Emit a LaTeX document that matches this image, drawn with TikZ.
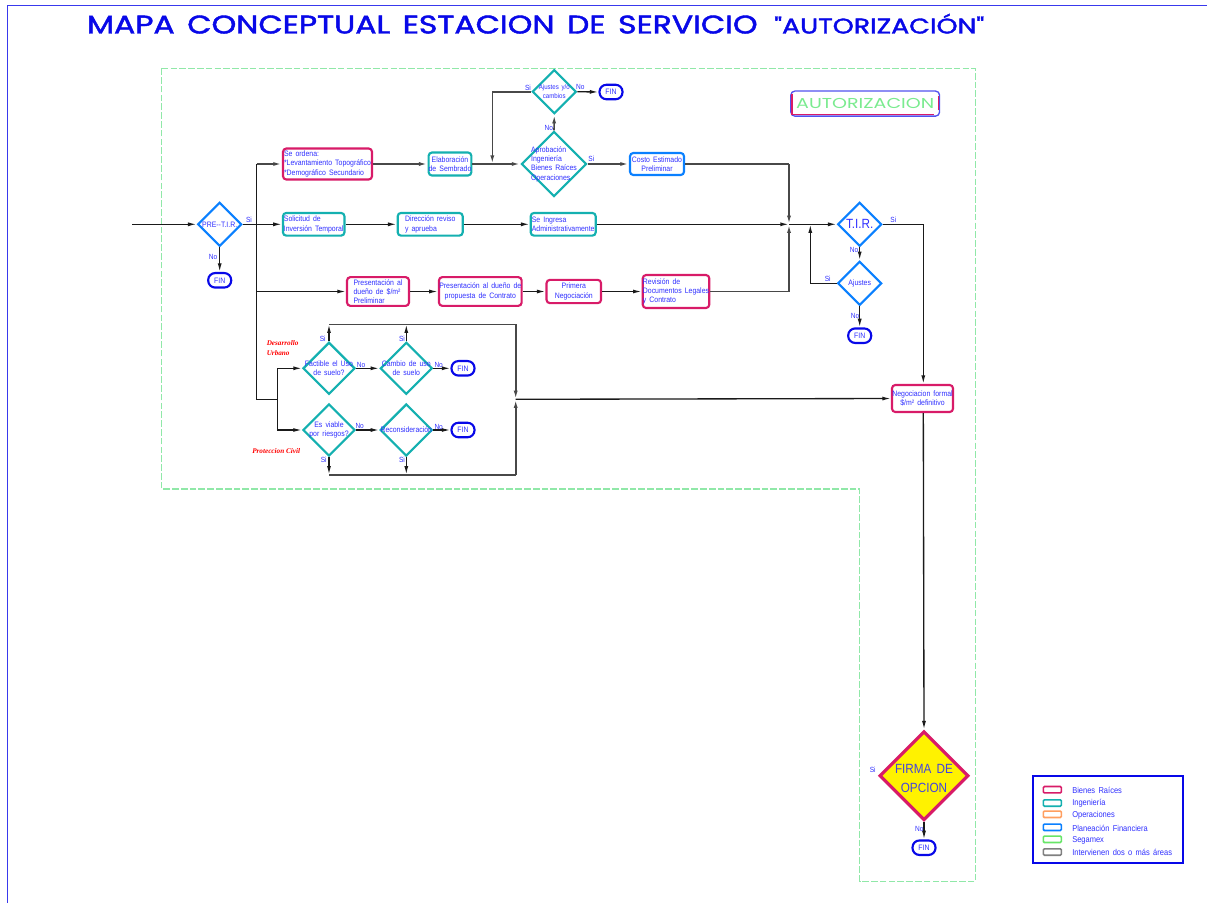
\documentclass[tikz,border=0pt]{standalone}
\usepackage{fontspec}
\setmainfont{Liberation Sans}
\newfontfamily\tf[FakeStretch=0.88,WordSpace=1.6]{Liberation Sans}
\newfontfamily\rf{Liberation Serif}
\newfontfamily\ttl[FakeBold=1.6,WordSpace=1.5]{Poppins}
\newfontfamily\aut{Poppins}
\usetikzlibrary{shapes.geometric,arrows.meta}
\definecolor{crim}{HTML}{D81B68}
\definecolor{teal2}{HTML}{14B0B0}
\definecolor{blu}{HTML}{0A80FF}
\definecolor{txb}{HTML}{3030FF}
\definecolor{dgreen}{HTML}{90E8A8}
\definecolor{fin}{HTML}{0808E8}
\definecolor{lnk}{HTML}{1A1A1A}
\definecolor{lnkg}{HTML}{484848}
\tikzset{
 txt/.style={text=txb,font=\tf\fontsize{5.9}{7}\selectfont,align=center,inner sep=0pt},
 lab/.style={text=txb,font=\tf\fontsize{5.6}{6}\selectfont,inner sep=0pt},
 boxc/.style={txt,draw=crim,line width=1.6pt,rounded corners=2.5pt},
 boxt/.style={txt,draw=teal2,line width=1.6pt,rounded corners=2.5pt},
 boxb/.style={txt,draw=blu,line width=1.6pt,rounded corners=2.5pt},
 finb/.style={txt,draw=fin,line width=1.6pt,rounded corners=5.2pt,minimum width=17.5pt,minimum height=10.5pt},
 dia/.style={diamond,aspect=1,inner sep=0pt,line width=1.6pt},
 arr/.style={draw=lnk,line width=1pt,-{Latex[length=6.5pt,width=3pt]}},
 plainl/.style={draw=lnk,line width=1pt},
 arrg/.style={draw=lnkg,line width=1.2pt,-{Latex[length=6.5pt,width=3pt]}},
 plaing/.style={draw=lnkg,line width=1.2pt},
 redl/.style={text=red,font=\rf\bfseries\itshape\fontsize{5.4}{7.2}\selectfont,align=left,inner sep=0pt,anchor=west},
 legt/.style={text=txb,font=\tf\fontsize{6.4}{7}\selectfont,inner sep=0pt,anchor=west},
 sw/.style={draw=#1,line width=1.2pt,rounded corners=.8pt,minimum width=13.5pt,minimum height=4.8pt,inner sep=0pt}
}
\newcommand\bx[6]{\node[#1,minimum width=#4*0.75pt,minimum height=#5*0.75pt] (#2) at (#3) {#6};}
\newcommand\dm[6]{\node[dia,#1,minimum width=#4*1.5pt,minimum height=#4*1.5pt] (#2) at (#3) {};\node[txt,#5] (#2t) at (#2) {#6};}
\newcommand\lb[3]{\node[lab] (#1) at (#2) {#3};}
\begin{document}
\begin{tikzpicture}[x=0.75pt,y=-0.75pt]
\useasboundingbox (0,0) rectangle (1207,903);
\fill[white] (0,0) rectangle (1207,903);
% frame
\draw[fin!80!white,line width=.7pt] (7.5,903) -- (7.5,5.5) -- (1207,5.5);
% title
\node[text=fin,inner sep=0pt,anchor=south west] (title1) at (86.7,33.9) {\resizebox{503pt}{13.5pt}{\ttl MAPA CONCEPTUAL ESTACION DE SERVICIO}};
\node[text=fin,inner sep=0pt,anchor=south west] (title2) at (774,33.9) {\resizebox{157.5pt}{14.8pt}{\ttl "AUTORIZACIÓN"}};
% dashed region
\draw[dgreen,line width=.8pt,dash pattern=on 5pt off 1.6pt] (161.7,68.4) -- (975.6,68.4) -- (975.6,881.3) -- (859.8,881.3) -- (859.8,489) -- (161.7,489) -- cycle;
% autorizacion box
\node[draw=fin!70!white,line width=1pt,rounded corners=3pt,minimum width=111.5pt,minimum height=18.8pt,inner sep=0pt] (autb) at (865.2,103.6) {\resizebox{103.5pt}{7.6pt}{\textcolor{dgreen!85!green}{\aut AUTORIZACION}}};
\draw[crim,line width=.8pt] (792,94) -- (792,114.6) -- (934,114.6) (938.6,110) -- (938.6,96);
% row 1
\coordinate (start) at (132,224.3);
\dm{draw=blu}{pre}{219.7,224.3}{22}{}{PRE--T.I.R.}
\bx{finb}{fin1}{219.7,280.3}{23}{14.5}{FIN}
\bx{boxc,align=left}{orden}{327.5,164}{89}{31}{Se ordena:\\*Levantamiento Topográfico\\[.6pt]*Demográfico Secundario}
\bx{boxt}{elab}{450,164}{42}{23}{Elaboración\\de Sembrado}
\dm{draw=teal2}{aprob}{554,164}{32.5}{align=left}{Aprobación\\Ingeniería\\Bienes Raíces\\Operaciones}
\dm{draw=teal2}{ajc}{554.3,91.7}{22}{font=\tf\fontsize{5.2}{7}\selectfont}{Ajustes y/o\\cambios}
\bx{finb}{fin2}{611,92}{23}{14.5}{FIN}
\bx{boxb}{costo}{657,164}{54}{22}{Costo Estimado\\Preliminar}
% row 2
\bx{boxt,align=left}{soli}{313.7,224.3}{61.5}{22.7}{Solicitud de\\Inversión Temporal}
\bx{boxt,align=left}{dir}{430.2,224.3}{65}{22.7}{Dirección reviso\\y aprueba}
\bx{boxt,align=left}{ing}{563.2,224.3}{65}{22.7}{Se Ingresa\\Administrativamente}
% row 3
\bx{boxc,align=left}{pres1}{378,291.5}{62}{28.7}{Presentación al\\dueño de \$/m² \\Preliminar}
\bx{boxc}{pres2}{480.3,291.5}{82.7}{28.7}{Presentación al dueño de\\propuesta de Contrato}
\bx{boxc}{prim}{573.8,291.5}{54.5}{23.3}{Primera\\Negociación}
\bx{boxc,align=left}{rev}{676,291.5}{66.5}{33}{Revisión de\\Documentos Legales\\y Contrato}
% T.I.R.
\dm{draw=blu}{tir}{859.7,224.3}{22}{font=\tf\fontsize{10}{12}\selectfont}{T.I.R.}
\dm{draw=blu}{aju}{859.7,283.3}{22}{}{Ajustes}
\bx{finb}{fin3}{859.7,335.7}{23}{14.5}{FIN}
\bx{boxc}{nego}{922.5,398.5}{61}{27}{Negociacion formal\\\$/m² definitivo}
% factibility
\dm{draw=teal2}{fact}{329,368.3}{26}{}{Factible el Uso\\de suelo?}
\dm{draw=teal2}{camb}{406.3,368.3}{26}{}{Cambio de uso\\de suelo}
\bx{finb}{fin4}{463,368.3}{23}{14.5}{FIN}
\dm{draw=teal2}{viab}{329,430}{26}{}{Es viable\\por riesgos?}
\dm{draw=teal2}{reco}{406.3,430}{26}{}{Reconsideración}
\bx{finb}{fin5}{463,430}{23}{14.5}{FIN}
% firma
\node[dia,draw=crim,fill=yellow,line width=2.4pt,minimum width=66.8pt,minimum height=66.8pt] (firma) at (924,775.7) {};
\node[txt,text=txb!75!gray,font=\tf\fontsize{10}{14.5}\selectfont,yshift=-2pt] (firmat) at (firma) {FIRMA DE\\OPCION};
\bx{finb}{fin6}{924,847.7}{23}{14.5}{FIN}
% junctions
\coordinate (t1) at (256.7,164);
\coordinate (t2) at (256.7,224.3);
\coordinate (t3) at (256.7,291.5);
\coordinate (t4) at (256.7,399.3);
\coordinate (s1) at (277.3,399.3);
\coordinate (s2) at (277.3,368.3);
\coordinate (s3) at (277.3,430);
\coordinate (j1) at (789,224.3);
\coordinate (j1a) at (789,164);
\coordinate (j1b) at (789,291.5);
\coordinate (j2) at (810.3,224.3);
\coordinate (j2a) at (810.3,283.3);
\coordinate (k1) at (492.3,164);
\coordinate (k2) at (492.3,91.7);
\coordinate (n1) at (923.3,224.3);
\coordinate (r0) at (515.7,399.3);
\coordinate (rt) at (515.7,324.3);
\coordinate (rb) at (515.7,474.7);
\coordinate (u1) at (329,324.3);
\coordinate (u2) at (406.3,324.3);
\coordinate (d1) at (329,474.7);
\coordinate (d2) at (406.3,474.7);
% connectors
\draw[arr] (start) -- (pre.west);
\draw[arr] (pre.south) -- (fin1.north);
\draw[arr] (pre.east) -- (soli.west);
\draw[plainl] (t2) -- (t1);
\draw[arrg] (t1) -- (orden.west);
\draw[plainl] (t2) -- (t4) -- (s1);
\draw[arr] (t3) -- (pres1.west);
\draw[plainl] (s3) -- (s2);
\draw[arr] (s2) -- (fact.west);
\draw[arr] (s3) -- (viab.west);
\draw[arrg] (orden.east) -- (elab.west);
\draw[arrg] (elab.east) -- (aprob.west);
\draw[arrg] (aprob.east) -- (costo.west);
\draw[arrg] (aprob.north) -- (ajc.south);
\draw[arr] (ajc.east) -- (fin2.west);
\draw[plaing] (ajc.west) -- (k2);
\draw[arrg] (k2) -- (k1);
\draw[plaing] (costo.east) -- (j1a);
\draw[arrg] (j1a) -- (j1);
\draw[plaing] (rev.east) -- (j1b);
\draw[arrg] (j1b) -- (j1);
\draw[arr] (soli.east) -- (dir.west);
\draw[arr] (dir.east) -- (ing.west);
\draw[arr] (ing.east) -- (j1);
\draw[arr] (j1) -- (tir.west);
\draw[arr] (pres1.east) -- (pres2.west);
\draw[arr] (pres2.east) -- (prim.west);
\draw[arr] (prim.east) -- (rev.west);
\draw[arr] (tir.south) -- (aju.north);
\draw[arr] (aju.south) -- (fin3.north);
\draw[plainl] (aju.west) -- (j2a);
\draw[arr] (j2a) -- (j2);
\draw[plainl] (tir.east) -- (n1);
\draw[arr] (n1) -- (nego.north -| n1);
\draw[arr] (nego.south -| n1) -- (firma.north);
\draw[arr] (firma.south) -- (fin6.north);
\draw[arr] (fact.east) -- (camb.west);
\draw[arr] (camb.east) -- (fin4.west);
\draw[arr] (viab.east) -- (reco.west);
\draw[arr] (reco.east) -- (fin5.west);
\draw[arr] (fact.north) -- (u1);
\draw[arr] (camb.north) -- (u2);
\draw[arr] (viab.south) -- (d1);
\draw[arr] (reco.south) -- (d2);
\draw[plaing] (u1) -- (rt);
\draw[arrg] (rt) -- (r0);
\draw[plaing] (d1) -- (rb);
\draw[arrg] (rb) -- (r0);
\draw[arr] (r0) -- (nego.west);
% labels
\lb{l1}{249,220.3}{Si}
\lb{l2}{213,256.7}{No}
\lb{l3}{528,88}{Si}
\lb{l4}{580.3,87.3}{No}
\lb{l5}{548.7,127.7}{No}
\lb{l6}{591.3,159.3}{Si}
\lb{l7}{322.7,338.7}{Si}
\lb{l8}{361,365}{No}
\lb{l9}{402,338.7}{Si}
\lb{l10}{438.7,364.7}{No}
\lb{l11}{359.7,426.3}{No}
\lb{l12}{323.7,460.3}{Si}
\lb{l13}{438.7,427}{No}
\lb{l14}{402,460.3}{Si}
\lb{l15}{893.3,220.3}{Si}
\lb{l16}{854,250.3}{No}
\lb{l17}{827.7,279.3}{Si}
\lb{l18}{855,316.3}{No}
\lb{l19}{872.7,769.7}{Si}
\lb{l20}{919.3,828.7}{No}
% red labels
\node[redl] (du) at (266.5,348) {Desarrollo\\Urbano};
\node[redl] (pc) at (252,451) {Proteccion  Civil};
% legend
\node[draw=fin,line width=1.6pt,minimum width=112.3pt,minimum height=65.5pt,inner sep=0pt] (leg) at (1107.8,819.3) {};
\node[sw=crim] (s-a) at (1052.3,789.7) {};
\node[sw=teal2] (s-b) at (1052.3,803) {};
\node[sw={orange!50!pink}] (s-c) at (1052.3,814.3) {};
\node[sw=blu] (s-d) at (1052.3,827.3) {};
\node[sw={green!55!white!90!black}] (s-e) at (1052.3,839.3) {};
\node[sw=gray] (s-f) at (1052.3,852) {};
\node[legt] (t-a) at (1072,790.3) {Bienes Raíces};
\node[legt] (t-b) at (1072,803.7) {Ingeniería};
\node[legt] (t-c) at (1072,815) {Operaciones};
\node[legt] (t-d) at (1072,828.3) {Planeación Financiera};
\node[legt] (t-e) at (1072,840.3) {Segamex};
\node[legt] (t-f) at (1072,852.7) {Intervienen dos o más áreas};
\end{tikzpicture}
\end{document}
